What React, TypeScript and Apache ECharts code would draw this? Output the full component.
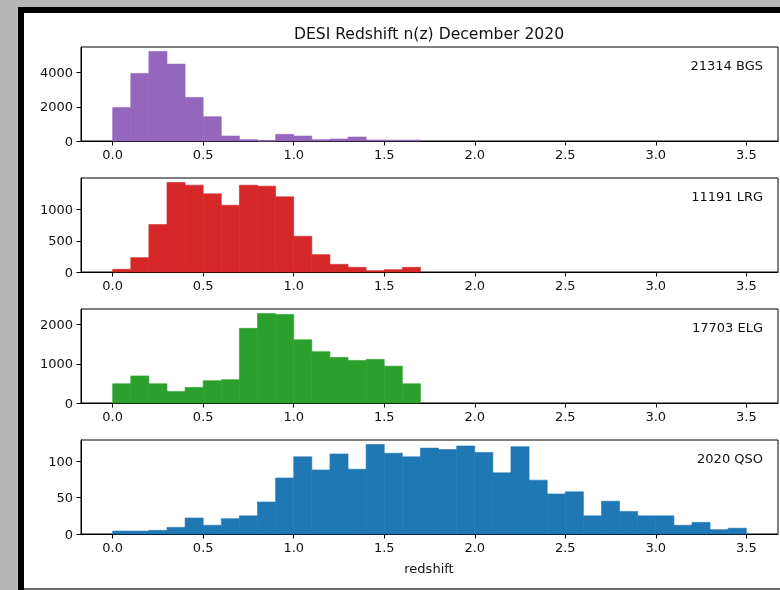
import React, { useEffect, useRef } from "react";
import * as echarts from "echarts";

// ---- data ----
const title = "DESI Redshift n(z) December 2020";
const xLabel = "redshift";
const binEdgesShort = [0.0, 0.1, 0.2, 0.3, 0.4, 0.5, 0.6, 0.7, 0.8, 0.9, 1.0, 1.1, 1.2, 1.3, 1.4, 1.5, 1.6, 1.7];
const binEdgesLong = [
  0.0, 0.1, 0.2, 0.3, 0.4, 0.5, 0.6, 0.7, 0.8, 0.9, 1.0, 1.1, 1.2, 1.3, 1.4, 1.5, 1.6, 1.7, 1.8, 1.9,
  2.0, 2.1, 2.2, 2.3, 2.4, 2.5, 2.6, 2.7, 2.8, 2.9, 3.0, 3.1, 3.2, 3.3, 3.4, 3.5,
];
const xTicks = [0, 0.5, 1.0, 1.5, 2.0, 2.5, 3.0, 3.5];

const bgsCounts = [1970, 3960, 5245, 4505, 2555, 1424, 293, 78, 0, 390, 293, 78, 117, 234, 58, 50, 50];
const lrgCounts = [43, 230, 760, 1434, 1391, 1252, 1070, 1391, 1375, 1204, 572, 278, 123, 75, 21, 37, 75];
const elgCounts = [491, 690, 491, 293, 397, 569, 595, 1905, 2284, 2258, 1612, 1310, 1164, 1086, 1112, 940, 491];
const qsoCounts = [
  4, 4, 5, 9, 22, 12, 21, 25, 44, 77, 106, 88, 110, 89, 123, 111, 106, 118, 116, 121,
  112, 84, 120, 74, 55, 58, 25, 45, 31, 25, 25, 12, 16, 6, 8,
];

const panelLabels = ["21314 BGS", "11191 LRG", "17703 ELG", "2020 QSO"];
const yTicksBGS = [0, 2000, 4000];
const yTicksLRG = [0, 500, 1000];
const yTicksELG = [0, 1000, 2000];
const yTicksQSO = [0, 50, 100];

const colors = ["#9467bd", "#d62728", "#2ca02c", "#1f77b4"];

const panels = [
  { counts: bgsCounts, edges: binEdgesShort, yTicks: yTicksBGS },
  { counts: lrgCounts, edges: binEdgesShort, yTicks: yTicksLRG },
  { counts: elgCounts, edges: binEdgesShort, yTicks: yTicksELG },
  { counts: qsoCounts, edges: binEdgesLong, yTicks: yTicksQSO },
];

const FONT = "DejaVu Sans";
const TEXT = "#111";

export default function App() {
  const ref = useRef<HTMLDivElement>(null);

  useEffect(() => {
    if (!ref.current) return;
    const chart = echarts.init(ref.current, undefined, { renderer: "svg" });

    const gridTop0 = 47;
    const gridStep = 131;
    const gridH = 94;
    const gridLeft = 81;
    const gridRight = 2;

    const grids: any[] = [];
    const xAxes: any[] = [];
    const yAxes: any[] = [];
    const series: any[] = [];
    const graphics: any[] = [
      { type: "rect", z: -100, shape: { x: 0, y: 0, width: 780, height: 590 }, style: { fill: "#b7b7b7" } },
      { type: "rect", z: -99, shape: { x: 18, y: 7, width: 770, height: 590 }, style: { fill: "#000" } },
      { type: "rect", z: -98, shape: { x: 24, y: 13, width: 760, height: 576 }, style: { fill: "#fff" } },
      { type: "rect", z: -97, shape: { x: 24, y: 588, width: 760, height: 2 }, style: { fill: "#6a6a6a" } },
      {
        type: "text",
        x: 429,
        y: 34,
        style: { text: title, font: `15.6px "${FONT}"`, fill: TEXT, textAlign: "center", textVerticalAlign: "middle" },
      },
      {
        type: "text",
        x: 429,
        y: 568,
        style: { text: xLabel, font: `13px "${FONT}"`, fill: TEXT, textAlign: "center", textVerticalAlign: "middle" },
      },
    ];

    panels.forEach((p, i) => {
      const top = gridTop0 + i * gridStep;
      grids.push({
        left: gridLeft,
        right: gridRight,
        top,
        height: gridH,
        show: true,
        borderColor: "#000",
        borderWidth: 1,
        backgroundColor: "transparent",
        containLabel: false,
      });
      xAxes.push({
        type: "value",
        gridIndex: i,
        min: -0.175,
        max: 3.675,
        axisLine: { show: true, onZero: false, lineStyle: { color: "#000", width: 1 } },
        axisTick: { show: true, inside: false, length: 4.5, customValues: xTicks, lineStyle: { color: "#000", width: 1 } },
        axisLabel: {
          show: true,
          customValues: xTicks,
          margin: 7,
          formatter: (v: number) => v.toFixed(1),
          fontFamily: FONT,
          fontSize: 13,
          color: TEXT,
        },
        splitLine: { show: false },
      });
      const yMax = Math.max(...p.counts) * 1.05;
      yAxes.push({
        type: "value",
        gridIndex: i,
        min: 0,
        max: yMax,
        axisLine: { show: true, onZero: false, lineStyle: { color: "#000", width: 1 } },
        axisTick: { show: true, inside: false, length: 4.5, customValues: p.yTicks, lineStyle: { color: "#000", width: 1 } },
        axisLabel: {
          show: true,
          customValues: p.yTicks,
          margin: 8,
          formatter: (v: number) => String(v),
          fontFamily: FONT,
          fontSize: 13,
          color: TEXT,
        },
        splitLine: { show: false },
      });
      const data = p.counts.map((c, k) => [p.edges[k], p.edges[k + 1], c]);
      series.push({
        type: "custom",
        xAxisIndex: i,
        yAxisIndex: i,
        data,
        encode: { x: [0, 1], y: 2 },
        renderItem: (params: any, api: any) => {
          const x0 = api.value(0);
          const x1 = api.value(1);
          const v = api.value(2);
          const p0 = api.coord([x0, v]);
          const p1 = api.coord([x1, 0]);
          return {
            type: "rect",
            shape: { x: p0[0], y: p0[1], width: p1[0] - p0[0], height: p1[1] - p0[1] },
            style: { fill: colors[i], stroke: colors[i], lineWidth: 0.6 },
          };
        },
      });
      graphics.push({
        type: "text",
        x: 763,
        y: top + 18,
        style: {
          text: panelLabels[i],
          font: `13px "${FONT}"`,
          fill: TEXT,
          textAlign: "right",
          textVerticalAlign: "middle",
        },
      });
    });

    chart.setOption({
      animation: false,
      textStyle: { fontFamily: FONT },
      grid: grids,
      xAxis: xAxes,
      yAxis: yAxes,
      series,
      graphic: graphics,
    });

    return () => chart.dispose();
  }, []);

  return (
    <div
      ref={ref}
      style={{ position: "fixed", left: 0, top: 0, width: 780, height: 590 }}
    />
  );
}
